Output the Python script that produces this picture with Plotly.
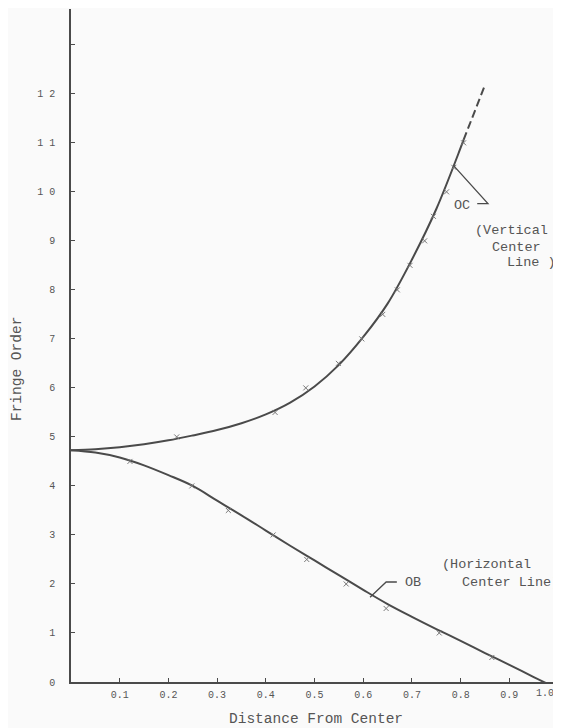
import plotly.graph_objects as go

# ---- data ----
oc_curve_x = [0.0, 0.05, 0.10, 0.15, 0.20, 0.25, 0.30, 0.35, 0.40, 0.45, 0.50, 0.55, 0.60, 0.65, 0.70, 0.75, 0.80, 0.806]
oc_curve_y = [4.73, 4.75, 4.79, 4.85, 4.93, 5.03, 5.14, 5.28, 5.46, 5.70, 6.03, 6.47, 7.04, 7.72, 8.62, 9.65, 10.90, 11.06]
oc_dash_x = [0.806, 0.850]
oc_dash_y = [11.06, 12.18]
oc_mark_x = [0.217, 0.419, 0.482, 0.549, 0.597, 0.640, 0.670, 0.696, 0.726, 0.744, 0.771, 0.786, 0.806]
oc_mark_y = [5.0, 5.5, 6.0, 6.5, 7.0, 7.5, 8.0, 8.5, 9.0, 9.5, 10.0, 10.5, 11.0]

ob_curve_x = [0.0, 0.05, 0.10, 0.15, 0.20, 0.25, 0.30, 0.35, 0.40, 0.45, 0.50, 0.55, 0.60, 0.65, 0.70, 0.75, 0.80, 0.85, 0.90, 0.95, 1.0]
ob_curve_y = [4.73, 4.68, 4.58, 4.42, 4.22, 4.00, 3.70, 3.40, 3.09, 2.78, 2.48, 2.18, 1.88, 1.59, 1.33, 1.08, 0.84, 0.59, 0.35, 0.10, -0.14]
ob_mark_x = [0.121, 0.248, 0.323, 0.415, 0.484, 0.565, 0.647, 0.756, 0.864]
ob_mark_y = [4.5, 4.0, 3.5, 3.0, 2.5, 2.0, 1.5, 1.0, 0.5]

x_ticks = [0.1, 0.2, 0.3, 0.4, 0.5, 0.6, 0.7, 0.8, 0.9, 1.0]
x_ticktext = ["0.1", "0.2", "0.3", "0.4", "0.5", "0.6", "0.7", "0.8", "0.9", ""]
x_last_label = "1.0"   # drawn slightly left of its tick, as in the reference
y_ticks = [0, 1, 2, 3, 4, 5, 6, 7, 8, 9, 10, 11, 12, 13]
y_ticktext = ["0", "1", "2", "3", "4", "5", "6", "7", "8", "9", "1 0", "1 1", "1 2", ""]

INK = "#4a4a4a"
MARK = "#777777"
TXT = "#555555"
MONO = "Liberation Mono, Courier New, monospace"
BG = "#fafafa"

fig = go.Figure()
fig.add_trace(go.Scatter(x=oc_curve_x, y=oc_curve_y, mode="lines",
                         line=dict(color=INK, width=2, shape="spline", smoothing=1),
                         hoverinfo="skip", showlegend=False))
fig.add_trace(go.Scatter(x=oc_dash_x, y=oc_dash_y, mode="lines",
                         line=dict(color=INK, width=2, dash="8px,4px"),
                         hoverinfo="skip", showlegend=False))
fig.add_trace(go.Scatter(x=ob_curve_x, y=ob_curve_y, mode="lines",
                         line=dict(color=INK, width=2, shape="spline", smoothing=1),
                         hoverinfo="skip", showlegend=False))
fig.add_trace(go.Scatter(x=oc_mark_x, y=oc_mark_y, mode="markers",
                         marker=dict(symbol="x-thin", size=5, line=dict(color=MARK, width=1)),
                         showlegend=False))
fig.add_trace(go.Scatter(x=ob_mark_x, y=ob_mark_y, mode="markers",
                         marker=dict(symbol="x-thin", size=5, line=dict(color=MARK, width=1)),
                         showlegend=False))

# leader lines
fig.add_shape(type="path", path="M 0.834,9.76 L 0.856,9.76 L 0.786,10.53",
              xref="x", yref="y", line=dict(color=INK, width=1.3))
fig.add_shape(type="path", path="M 0.669,2.04 L 0.647,2.04 L 0.614,1.73",
              xref="x", yref="y", line=dict(color=INK, width=1.3))

txt = dict(family=MONO, size=13.5, color=TXT)
anns = [
    dict(x=0.803, y=9.73, text="OC", xanchor="center"),
    dict(x=0.825, y=9.22, text="(Vertical", xanchor="left"),
    dict(x=0.860, y=8.86, text="Center", xanchor="left"),
    dict(x=0.891, y=8.55, text="Line )", xanchor="left"),
    dict(x=0.702, y=2.04, text="OB", xanchor="center"),
    dict(x=0.758, y=2.39, text="(Horizontal", xanchor="left"),
    dict(x=0.799, y=2.04, text="Center Line)", xanchor="left"),
]
for a in anns:
    fig.add_annotation(xref="x", yref="y", showarrow=False, yanchor="middle",
                       font=txt, **a)

# last x tick label
fig.add_annotation(xref="x", yref="paper", x=0.973, y=0, yshift=-11,
                   text=x_last_label, showarrow=False,
                   font=dict(family=MONO, size=10, color=TXT),
                   xanchor="center", yanchor="middle")

# axis titles
fig.add_annotation(xref="paper", yref="paper", x=0.5, y=0, yshift=-37,
                   text="Distance From Center", showarrow=False,
                   font=dict(family=MONO, size=14.5, color=TXT),
                   xanchor="center", yanchor="middle")
fig.add_annotation(xref="paper", yref="paper", x=0, xshift=-54, y=0.465,
                   text="Fringe Order", textangle=-90, showarrow=False,
                   font=dict(family=MONO, size=14.5, color=TXT),
                   xanchor="center", yanchor="middle")

fig.update_xaxes(range=[0, 1.006], tickvals=x_ticks, ticktext=x_ticktext,
                 ticks="inside", ticklen=4, tickcolor=INK, tickwidth=1,
                 showline=True, linecolor=INK, linewidth=1.5,
                 showgrid=False, zeroline=False,
                 tickfont=dict(family=MONO, size=10, color=TXT),
                 ticklabelstandoff=2)
fig.update_yaxes(range=[0, 13.73], tickvals=y_ticks, ticktext=y_ticktext,
                 ticks="inside", ticklen=4, tickcolor=INK, tickwidth=1,
                 showline=True, linecolor=INK, linewidth=1.5,
                 showgrid=False, zeroline=False,
                 tickfont=dict(family=MONO, size=10, color=TXT),
                 ticklabelstandoff=12)

# the page body adds an 8px margin, so the figure is sized to fill the rest
fig.update_layout(width=553, height=720,
                  margin=dict(l=63, r=0, t=1, b=46),
                  paper_bgcolor=BG, plot_bgcolor=BG,
                  showlegend=False)

fig.write_html("out.html")
